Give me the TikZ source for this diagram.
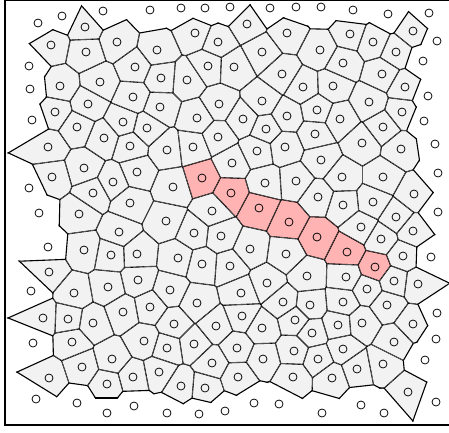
\documentclass[tikz,border=0pt]{standalone}
\usepackage{tikz}
\definecolor{cellgray}{HTML}{F2F2F2}
\definecolor{pathred}{HTML}{FFB3B3}

% sites whose cells are drawn: x/y/kind (g = plain, p = on the path)
\newcommand{\cellsites}{85/27/g,51/45/g,86/52/g,117/42/g,135/67/g,60/86/g,100/82/g,133/97/g,
55/112/g,88/104/g,77/127/g,123/122/g,147/128/g,48/147/g,104/138/g,130/146/g,
195/33/g,218/42/g,247/24/g,287/33/g,157/50/g,208/66/g,234/67/g,262/52/g,282/74/g,
161/78/g,187/80/g,219/104/g,262/101/g,160/107/g,197/118/g,243/119/g,287/116/g,
266/129/g,218/137/g,193/147/g,167/150/g,257/151/g,285/147/g,
350/34/g,373/42/g,396/52/g,413/31/g,320/50/g,343/63/g,382/74/g,405/87/g,303/87/g,
333/86/g,369/102/g,402/112/g,317/110/g,340/119/g,383/127/g,315/134/g,362/143/g,401/149/g,
52/177/g,84/168/g,113/182/g,137/172/g,93/193/g,130/203/g,79/214/g,119/232/g,
84/250/g,111/255/g,137/254/g,49/272/g,138/280/g,108/287/g,
232/163/g,202/178/p,173/187/g,231/193/p,265/183/g,296/181/g,212/211/g,166/221/g,
259/208/p,289/222/p,194/233/g,221/236/g,250/249/g,178/258/g,202/264/g,230/266/g,
286/254/g,267/283/g,170/290/g,
321/160/g,342/177/g,383/177/g,318/197/g,343/205/g,373/202/g,414/194/g,396/217/g,
361/227/g,413/231/g,317/237/p,381/239/g,347/252/p,403/256/g,375/267/p,307/276/g,
346/277/g,394/281/g,418/284/g,367/289/g,
74/293/g,43/318/g,68/319/g,93/323/g,123/312/g,150/307/g,72/342/g,112/359/g,
144/341/g,82/367/g,49/378/g,107/384/g,133/377/g,
197/303/g,241/293/g,283/302/g,174/324/g,216/326/g,242/316/g,262/328/g,295/320/g,
167/348/g,194/344/g,237/348/g,263/359/g,294/351/g,159/372/g,212/363/g,238/377/g,
293/377/g,181/386/g,205/388/g,
310/305/g,343/302/g,387/305/g,312/333/g,338/325/g,362/323/g,413/324/g,394/342/g,
318/359/g,343/349/g,383/364/g,357/369/g,332/378/g,408/392/g}

% sites on the rim, no cell drawn
\newcommand{\rimsites}{38/23,62/16,103/11,150/10,181/8,205/8,230/7,270/8,296/7,
321/7,353/10,388/14,429/13,
437/41,423/61,428/96,424/121,435/144,438/173,438/212,431/257,437/313,436/339,
425/360,436/402,
384/413,361/405,322/413,279/404,254/403,225/411,199/414,167/413,134/406,107/413,
77/403,36/399,
33/343,31/291,48/247,39/213,29/188,32/120,30/89,29/66}

\newif\ifnear
% bisector of (#1,#2) and (#3,#4): midpoint \mx,\my and unit vector \ux,\uy
\newcommand{\setbisector}[4]{%
  \nearfalse
  \ifdim\dimexpr#3pt-#1pt\relax<70pt \ifdim\dimexpr#1pt-#3pt\relax<70pt
  \ifdim\dimexpr#4pt-#2pt\relax<70pt \ifdim\dimexpr#2pt-#4pt\relax<70pt
    \pgfmathsetmacro\dd{veclen(#3-#1,#4-#2)}%
    \ifdim\dd pt>0.5pt
      \neartrue
      \pgfmathsetmacro\mx{(#1+#3)/2}%
      \pgfmathsetmacro\my{(#2+#4)/2}%
      \pgfmathsetmacro\ux{(#3-#1)/\dd}%
      \pgfmathsetmacro\uy{(#4-#2)/\dd}%
    \fi
  \fi\fi\fi\fi}
\newcommand{\cutcell}[4]{\setbisector{#1}{#2}{#3}{#4}\ifnear
  \clip ({\mx-90*\uy},{\my+90*\ux}) -- ({\mx+90*\uy},{\my-90*\ux})
    -- ({\mx+90*\uy-90*\ux},{\my-90*\ux-90*\uy})
    -- ({\mx-90*\uy-90*\ux},{\my+90*\ux-90*\uy}) -- cycle;\fi}
\newcommand{\celledge}[5]{\setbisector{#1}{#2}{#3}{#4}\ifnear
  \draw[#5] ({\mx-90*\uy},{\my+90*\ux}) -- ({\mx+90*\uy},{\my-90*\ux});\fi}

\begin{document}
\begin{tikzpicture}[x=1pt,y=-1pt,
    kind g/.style={fill=cellgray},
    kind p/.style={fill=pathred},
    edge/.style={draw=black,line width=1.1pt},
    rim edge/.style={draw=black,line width=2.2pt},
    site/.style={draw=black,line width=0.75pt},
    frame/.style={draw=black,line width=1.3pt}
  ]
  \useasboundingbox (0,0) rectangle (449,432);
  % voronoi cells, one clip per neighbour
  \foreach \x/\y/\k in \cellsites {
    \begin{scope}
      \foreach \u/\v/\w in \cellsites {\cutcell{\x}{\y}{\u}{\v}}
      \foreach \u/\v in \rimsites {\cutcell{\x}{\y}{\u}{\v}}
      \fill[kind \k] (\x-45,\y-45) rectangle (\x+45,\y+45);
      \foreach \u/\v/\w in \cellsites {\celledge{\x}{\y}{\u}{\v}{edge}}
      \foreach \u/\v in \rimsites {\celledge{\x}{\y}{\u}{\v}{rim edge}}
    \end{scope}
  }
  % sites
  \foreach \x/\y/\k in \cellsites
    \draw[site] (\x,\y) circle[radius=4pt];
  \foreach \x/\y in \rimsites
    \draw[site] (\x,\y) circle[radius=4pt];
  \draw[frame] (455,0) -- (5,0) -- (5,425) -- (455,425);
\end{tikzpicture}
\end{document}
